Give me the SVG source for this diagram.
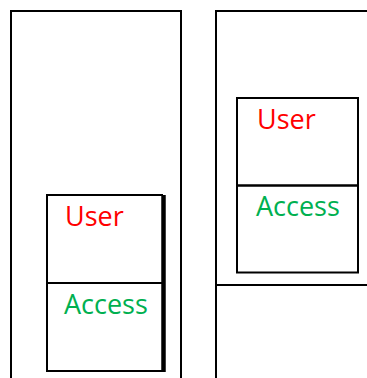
<svg xmlns="http://www.w3.org/2000/svg" width="367" height="378" viewBox="0 0 367 378">
<style>
.ln{fill:none;stroke:#000;stroke-width:2}
.t{font-family:"Open Sans","Noto Sans",sans-serif;font-size:27px}
.u{fill:#FF0000}
.a{fill:#00B050}
</style>
<rect width="367" height="378" fill="#fff"/>
<g id="left-container">
<path class="ln" d="M11,378 V11 H181 V378"/>
</g>
<g id="right-container">
<path class="ln" d="M216,378 V11 H367 M216,285 H367"/>
</g>
<g id="left-user">
<path class="ln" d="M47,283 V195 H163"/>
<text class="t u" x="65" y="226">User</text>
</g>
<g id="left-access">
<path class="ln" d="M47,283 H163 M47,283 V371 H163"/>
<path d="M163.5,195 V372" stroke="#000" stroke-width="4.5" fill="none"/>
<text class="t a" x="64" y="314">Access</text>
</g>
<g id="right-user">
<rect class="ln" x="237" y="98" width="121" height="87.5"/>
<text class="t u" x="257" y="129">User</text>
</g>
<g id="right-access">
<rect class="ln" x="237" y="185.5" width="121" height="87"/>
<text class="t a" x="256" y="216">Access</text>
</g>
<g id="connectors"/>
</svg>
